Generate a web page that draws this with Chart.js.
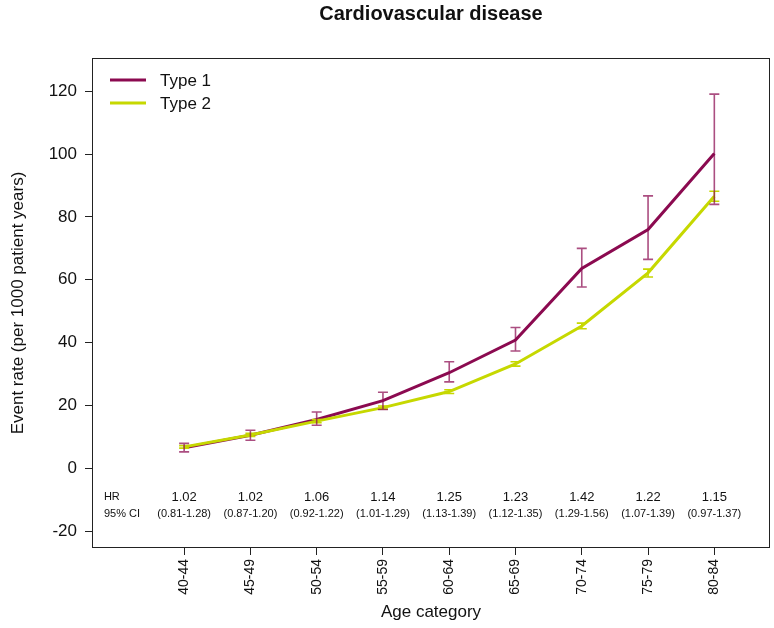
<!DOCTYPE html>
<html>
<head>
<meta charset="utf-8">
<title>Cardiovascular disease</title>
<script src="https://cdn.jsdelivr.net/npm/chart.js@4.4.1/dist/chart.umd.min.js"></script>
<style>
    html, body { margin: 0; padding: 0; background: #fff; }
    #wrap { width: 774px; height: 628px; }
</style>
</head>
<body>
<div id="wrap"><canvas id="cvdChart" width="774" height="628"></canvas></div>
<script>
// Chart data
const ageCategories = ['40-44', '45-49', '50-54', '55-59', '60-64', '65-69', '70-74', '75-79', '80-84'];
const type1Rate = [6.5, 10.5, 15.5, 21.5, 30.4, 40.8, 63.6, 76.0, 100.2];
const type1Lower = [5.2, 8.9, 13.7, 18.7, 27.5, 37.3, 57.7, 66.5, 84.0];
const type1Upper = [7.9, 12.1, 17.9, 24.2, 33.9, 44.8, 70.0, 86.7, 119.1];
const type2Rate = [6.8, 10.6, 15.0, 19.3, 24.4, 33.2, 45.3, 62.2, 86.6];
const type2Lower = [6.4, 10.1, 14.5, 18.8, 23.8, 32.5, 44.4, 60.9, 85.0];
const type2Upper = [7.2, 11.1, 15.5, 19.8, 25.0, 33.9, 46.2, 63.4, 88.2];
const hrValues = ['1.02', '1.02', '1.06', '1.14', '1.25', '1.23', '1.42', '1.22', '1.15'];
const ciLabels = ['(0.81-1.28)', '(0.87-1.20)', '(0.92-1.22)', '(1.01-1.29)', '(1.13-1.39)',
    '(1.12-1.35)', '(1.29-1.56)', '(1.07-1.39)', '(0.97-1.37)'];
const yTicks = [-20, 0, 20, 40, 60, 80, 100, 120];

const FONT = '"Liberation Sans", Arial, Helvetica, sans-serif';
const PURPLE = '#8b0a50';
const PURPLE_BAR = 'rgba(139, 10, 80, 0.72)';
const YELLOW = '#c6d800';

// Draw R-style extras: box, error bars, HR row, legend, titles
const extrasPlugin = {
    id: 'extras',
    afterDatasetsDraw(chart) {
        const ctx = chart.ctx;
        const x = chart.scales.x;
        const y = chart.scales.y;
        const area = chart.chartArea;

        // error bars
        const drawBars = (lower, upper, color) => {
            ctx.save();
            ctx.strokeStyle = color;
            ctx.lineWidth = 1.6;
            for (let i = 0; i < lower.length; i++) {
                const px = x.getPixelForValue(i);
                const y1 = y.getPixelForValue(lower[i]);
                const y2 = y.getPixelForValue(upper[i]);
                ctx.beginPath();
                ctx.moveTo(px, y1); ctx.lineTo(px, y2);
                ctx.moveTo(px - 5, y1); ctx.lineTo(px + 5, y1);
                ctx.moveTo(px - 5, y2); ctx.lineTo(px + 5, y2);
                ctx.stroke();
            }
            ctx.restore();
        };
        drawBars(type2Lower, type2Upper, YELLOW);
        drawBars(type1Lower, type1Upper, PURPLE_BAR);

        // HR and CI rows
        ctx.save();
        ctx.fillStyle = '#111';
        ctx.textBaseline = 'middle';
        ctx.textAlign = 'left';
        ctx.font = '11px ' + FONT;
        ctx.fillText('HR', x.getPixelForValue(-1.21), y.getPixelForValue(-9.2));
        ctx.fillText('95% CI', x.getPixelForValue(-1.21), y.getPixelForValue(-14.6));
        ctx.textAlign = 'center';
        for (let i = 0; i < hrValues.length; i++) {
            const px = x.getPixelForValue(i);
            ctx.font = '13px ' + FONT;
            ctx.fillText(hrValues[i], px, y.getPixelForValue(-9.2));
            ctx.font = '11px ' + FONT;
            ctx.fillText(ciLabels[i], px, y.getPixelForValue(-14.6));
        }
        ctx.restore();

        // plot box
        ctx.save();
        ctx.strokeStyle = '#222';
        ctx.lineWidth = 1;
        ctx.strokeRect(area.left + 0.5, area.top + 0.5, area.right - area.left - 1, area.bottom - area.top - 1);
        ctx.restore();

        // legend
        ctx.save();
        const legendItems = [['Type 1', PURPLE], ['Type 2', YELLOW]];
        legendItems.forEach((item, k) => {
            const ly = area.top + 22 + k * 23;
            ctx.strokeStyle = item[1];
            ctx.lineWidth = 3;
            ctx.beginPath();
            ctx.moveTo(area.left + 18, ly);
            ctx.lineTo(area.left + 54, ly);
            ctx.stroke();
            ctx.fillStyle = '#111';
            ctx.font = '17px ' + FONT;
            ctx.textAlign = 'left';
            ctx.textBaseline = 'middle';
            ctx.fillText(item[0], area.left + 68, ly + 1);
        });
        ctx.restore();

        // titles
        ctx.save();
        ctx.fillStyle = '#111';
        ctx.textAlign = 'center';
        ctx.textBaseline = 'middle';
        ctx.font = 'bold 20px ' + FONT;
        ctx.fillText('Cardiovascular disease', (area.left + area.right) / 2, 14);
        ctx.font = '17px ' + FONT;
        ctx.fillText('Age category', (area.left + area.right) / 2, 612);
        ctx.translate(18, (area.top + area.bottom) / 2);
        ctx.rotate(-Math.PI / 2);
        ctx.fillText('Event rate (per 1000 patient years)', 0, 0);
        ctx.restore();
    }
};

const ctx = document.getElementById('cvdChart').getContext('2d');
new Chart(ctx, {
    type: 'line',
    data: {
        datasets: [
            {
                label: 'Type 1',
                data: type1Rate.map((v, i) => ({ x: i, y: v })),
                borderColor: PURPLE,
                borderWidth: 3,
                pointRadius: 0,
                tension: 0,
                order: 1
            },
            {
                label: 'Type 2',
                data: type2Rate.map((v, i) => ({ x: i, y: v })),
                borderColor: YELLOW,
                borderWidth: 3,
                pointRadius: 0,
                tension: 0,
                order: 0
            }
        ]
    },
    options: {
        responsive: false,
        animation: false,
        layout: { padding: { top: 58, right: 4, left: 0, bottom: 0 } },
        plugins: {
            legend: { display: false },
            tooltip: { enabled: false },
            title: { display: false }
        },
        scales: {
            x: {
                type: 'linear',
                min: -1.39,
                max: 8.84,
                afterBuildTicks: (scale) => { scale.ticks = ageCategories.map((c, i) => ({ value: i })); },
                afterFit: (scale) => { scale.height = 80; },
                grid: { drawOnChartArea: false, tickLength: 7, color: '#222', tickColor: '#222' },
                border: { display: false },
                ticks: {
                    callback: (v) => ageCategories[v],
                    minRotation: 90,
                    maxRotation: 90,
                    padding: 4,
                    color: '#111',
                    font: { family: FONT, size: 14 }
                }
            },
            y: {
                type: 'linear',
                min: -25.4,
                max: 130.6,
                afterBuildTicks: (scale) => { scale.ticks = yTicks.map(v => ({ value: v })); },
                afterFit: (scale) => { scale.width = 92; },
                grid: { drawOnChartArea: false, tickLength: 7, color: '#222', tickColor: '#222' },
                border: { display: false },
                ticks: {
                    padding: 8,
                    color: '#111',
                    font: { family: FONT, size: 17 }
                }
            }
        }
    },
    plugins: [extrasPlugin]
});
</script>
</body>
</html>
